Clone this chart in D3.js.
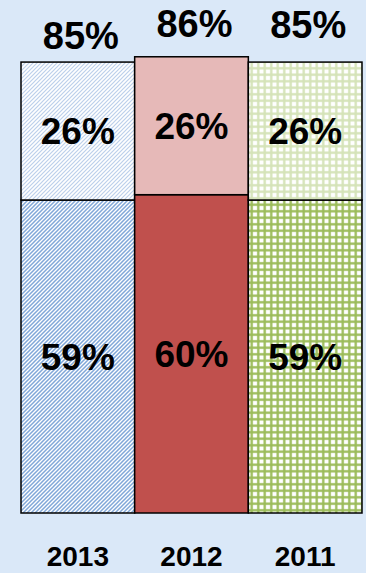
<!DOCTYPE html>
<head>
  <meta charset="utf-8">
  <script src="https://d3js.org/d3.v7.min.js"></script>
  <style>
    body { margin:0; background:#dae8f8; }
    text { font-family: Arial, "Liberation Sans", sans-serif; font-weight: bold; fill: #000; }
  </style>
</head>
<body>
  <script>
    // chart values
    var years = ["2013", "2012", "2011"];
    var lower = [59, 60, 59];
    var upper = [26, 26, 26];
    var totals = [85, 86, 85];

    var width = 366,
        height = 573;

    var svg = d3.select("body")
      .append("svg")
      .attr("width", width)
      .attr("height", height);

    var x = d3.scaleBand().domain(years).range([21, 362]).padding(0);
    var y = d3.scaleLinear().domain([0, 100]).range([513, -17.5]);

    var defs = svg.append("defs");

    // diagonal stripes
    function stripes(id, color, size, w) {
      var p = defs.append("pattern")
        .attr("id", id)
        .attr("patternUnits", "userSpaceOnUse")
        .attr("width", size).attr("height", size);
      p.append("rect").attr("width", size).attr("height", size).attr("fill", "#fff");
      p.append("path")
        .attr("d", "M0," + size + "L" + size + ",0M-1,1L1,-1M" + (size - 1) + "," + (size + 1) + "L" + (size + 1) + "," + (size - 1))
        .attr("stroke", color).attr("stroke-width", w);
    }
    // square grid, lines drawn through the middle of each tile
    function grid(id, color, size, w) {
      var p = defs.append("pattern")
        .attr("id", id)
        .attr("patternUnits", "userSpaceOnUse")
        .attr("x", 21).attr("y", 0)
        .attr("width", size).attr("height", size);
      p.append("rect").attr("width", size).attr("height", size).attr("fill", "#fff");
      p.append("path")
        .attr("d", "M0," + size / 2 + "H" + size + "M" + size / 2 + ",0V" + size)
        .attr("stroke", color).attr("stroke-width", w);
    }
    stripes("s-low", "#80a7d8", 4, 1.5);
    stripes("s-up", "#bcd0eb", 4, 1.2);
    grid("g-low", "#9bbb59", 6.5, 2.3);
    grid("g-up", "#d5e3b8", 6.5, 2.3);

    var lowFill = ["url(#s-low)", "#c0504d", "url(#g-low)"];
    var upFill = ["url(#s-up)", "#e6b9b8", "url(#g-up)"];

    var bars = svg.selectAll("g.bar")
      .data(years)
      .enter().append("g")
      .attr("class", "bar");

    bars.append("rect")
      .attr("x", function(d) { return x(d); })
      .attr("width", x.bandwidth())
      .attr("y", function(d, i) { return y(lower[i]); })
      .attr("height", function(d, i) { return y(0) - y(lower[i]); })
      .attr("fill", function(d, i) { return lowFill[i]; })
      .attr("stroke", "#000").attr("stroke-width", 1.5);

    bars.append("rect")
      .attr("x", function(d) { return x(d); })
      .attr("width", x.bandwidth())
      .attr("y", function(d, i) { return y(lower[i] + upper[i]); })
      .attr("height", function(d, i) { return y(lower[i]) - y(lower[i] + upper[i]); })
      .attr("fill", function(d, i) { return upFill[i]; })
      .attr("stroke", "#000").attr("stroke-width", 1.5);

    var cx = function(d) { return x(d) + x.bandwidth() / 2; };

    bars.append("text")
      .attr("x", cx)
      .attr("y", function(d, i) { return (y(0) + y(lower[i])) / 2; })
      .attr("dy", "0.36em")
      .attr("text-anchor", "middle")
      .style("font-size", "37px")
      .text(function(d, i) { return lower[i] + "%"; });

    bars.append("text")
      .attr("x", cx)
      .attr("y", function(d, i) { return (y(lower[i]) + y(lower[i] + upper[i])) / 2; })
      .attr("dy", "0.36em")
      .attr("text-anchor", "middle")
      .style("font-size", "37px")
      .text(function(d, i) { return upper[i] + "%"; });

    // total labels sit at slightly different heights above each bar
    var lift = [13, 20, 24];
    bars.append("text")
      .attr("x", function(d) { return cx(d) + 3; })
      .attr("y", function(d, i) { return y(totals[i]) - lift[i]; })
      .attr("text-anchor", "middle")
      .style("font-size", "38px")
      .text(function(d, i) { return totals[i] + "%"; });

    bars.append("text")
      .attr("x", cx)
      .attr("y", 566)
      .attr("text-anchor", "middle")
      .style("font-size", "28px")
      .text(function(d) { return d; });
  </script>
</body>
